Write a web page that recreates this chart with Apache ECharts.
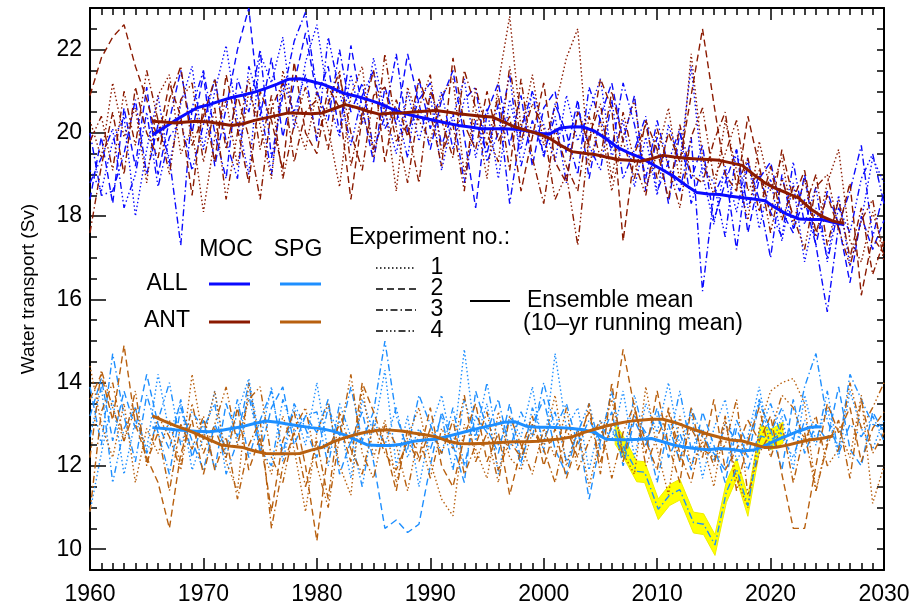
<!DOCTYPE html>
<html>
<head>
<meta charset="utf-8">
<script src="https://cdn.jsdelivr.net/npm/echarts@6/dist/echarts.min.js"></script>
<style>
  html, body { margin: 0; padding: 0; background: #fff; }
  #chart { width: 914px; height: 606px; }
</style>
</head>
<body>
<div id="chart"></div>
<script>
// yearly values of the single runs, 1960..2030
var startYear = 1960;

// MOC, ALL forcing (blue), experiments 1-4
var allMoc1 = [
  19.1, 18.6, 19.8, 20.4, 18.0, 19.6, 20.9, 19.2, 20.7, 21.6,
  19.6, 21.0, 22.1, 20.3, 19.0, 21.9, 21.2, 22.3, 20.1, 21.7,
  22.6, 20.8, 19.9, 21.4, 20.2, 21.8, 20.5, 19.5, 21.0, 19.8,
  20.9, 19.1, 20.4, 21.3, 19.4, 20.6, 18.9, 20.8, 19.6, 21.0,
  20.2, 19.3, 20.9, 19.8, 20.5, 21.3, 19.4, 20.3, 18.7, 19.9,
  18.5, 20.2, 19.3, 21.6, 19.0, 17.8, 19.2, 18.1, 19.4, 17.7,
  18.9, 17.4, 18.8, 16.9, 18.2, 17.0, 18.5, 16.8, 17.9, 19.4,
  18.8];
var allMoc2 = [
  18.4, 19.9, 18.3, 20.6, 19.2, 21.1, 19.0, 20.3, 21.5, 20.0,
  21.4, 19.2, 20.6, 22.0, 23.0, 20.4, 21.8, 19.9, 21.2, 22.4,
  20.9, 21.6, 20.0, 22.1, 20.6, 19.3, 21.1, 20.2, 21.9, 20.7,
  19.6, 20.8, 21.5, 19.9, 18.2, 20.5, 21.2, 19.7, 20.9, 19.2,
  20.6, 21.0, 19.5, 20.8, 18.9, 20.4, 21.2, 19.8, 20.9, 18.6,
  19.9, 18.3, 20.0, 18.9, 19.7, 17.9, 18.8, 19.6, 17.6, 18.9,
  19.3, 18.1, 17.6, 19.0, 17.3, 18.6, 17.8, 16.4, 18.0, 17.2,
  17.9];
var allMoc3 = [
  20.0, 18.5, 18.6, 19.5, 20.8, 19.0, 20.2, 19.4, 17.3, 20.6,
  21.5, 20.0, 18.9, 21.3, 20.5, 22.0, 19.4, 20.9, 22.2, 22.9,
  21.0, 20.3, 22.0, 20.5, 21.2, 19.6, 20.4, 21.9, 20.0, 20.8,
  21.2, 19.7, 20.5, 18.8, 20.3, 19.5, 20.7, 18.3, 20.1, 21.0,
  19.4, 20.7, 20.0, 19.0, 21.1, 20.3, 19.6, 21.2, 20.2, 18.9,
  20.3, 19.2, 18.6, 19.9, 16.2, 18.5, 19.1, 17.2, 19.3, 18.4,
  17.0, 19.0, 17.7, 18.4, 17.3, 15.7, 17.8, 18.6, 19.7, 17.5,
  18.6];
var allMoc4 = [
  18.8, 19.4, 20.1, 18.2, 19.0, 20.5, 18.7, 19.9, 20.3, 19.1,
  20.2, 21.3, 19.8, 18.9, 21.6, 20.7, 19.0, 21.2, 20.5, 21.4,
  19.8, 22.3, 21.0, 19.7, 20.9, 21.5, 20.1, 20.6, 19.4, 21.3,
  20.1, 21.0, 19.6, 20.8, 21.1, 19.3, 20.0, 21.4, 19.2, 20.3,
  19.5, 20.4, 18.8, 20.6, 19.7, 19.1, 20.8, 18.9, 19.6, 20.4,
  18.6, 19.3, 20.1, 18.3, 19.2, 18.8, 17.5, 19.6, 18.2, 19.0,
  18.1, 17.5, 19.3, 17.8, 18.7, 16.9, 18.2, 17.6, 18.9, 19.5,
  18.3];

// MOC, ANT forcing (dark red)
var antMoc1 = [
  20.3, 19.4, 21.2, 19.9, 20.6, 18.8, 20.9, 21.4, 19.5, 20.1,
  18.1, 19.9, 20.8, 19.2, 21.0, 20.2, 18.9, 21.5, 20.4, 19.6,
  21.0, 20.1, 18.7, 20.9, 21.6, 19.4, 20.7, 18.6, 21.1, 20.3,
  19.8, 20.9, 21.3, 19.0, 20.5, 18.9, 21.2, 22.8, 20.1, 21.4,
  19.7, 20.6, 21.8, 22.5, 19.2, 20.3, 18.6, 19.9, 20.8, 18.7,
  19.5, 20.6, 18.8, 21.9, 19.4, 18.5, 20.3, 19.1, 17.9, 19.8,
  18.6, 19.4, 17.8, 18.9, 17.5, 18.8, 19.6, 17.4, 16.9, 18.1,
  17.2];
var antMoc2 = [
  20.9, 21.8, 22.3, 22.6, 21.6, 20.8, 19.8, 21.2, 20.4, 18.5,
  20.7, 19.3, 21.4, 20.1, 18.8, 21.0, 20.3, 19.1, 21.7, 20.0,
  19.5, 21.1, 20.6, 18.4, 20.4, 21.5, 19.3, 20.8, 19.9, 21.3,
  20.5, 19.2, 21.8, 20.2, 19.6, 21.0, 19.8, 20.4, 18.6, 19.9,
  21.2, 19.3, 18.8, 20.5, 19.7, 21.3, 20.6, 17.4, 19.5, 20.2,
  18.9, 20.0, 19.3, 20.9, 22.5, 20.7, 19.0, 18.6, 20.4, 19.2,
  18.0, 19.6, 18.4, 19.1, 17.6, 18.5, 17.7, 18.8, 16.1, 17.5,
  17.1];
var antMoc3 = [
  17.6, 19.2, 20.5, 19.0, 21.1, 20.0, 19.4, 20.8, 21.6, 19.7,
  20.4, 21.3, 19.6, 20.9, 19.9, 18.4, 20.6, 21.2, 19.3, 20.5,
  20.8, 19.6, 21.4, 20.0, 19.1, 20.9, 21.1, 19.8, 20.2, 18.8,
  21.0, 20.3, 19.4, 21.5, 20.6, 19.7, 20.9, 19.1, 21.3, 19.4,
  18.3, 20.1, 19.2, 18.6, 20.4, 19.4, 21.0, 19.8, 18.9, 20.3,
  19.6, 18.4, 20.2, 19.0, 18.8, 19.8, 20.5, 18.7, 19.4, 18.1,
  19.2, 17.9, 18.7, 18.2, 19.0, 17.3, 18.4, 17.0, 18.2, 16.6,
  17.4];
var antMoc4 = [
  19.8, 20.4, 19.1, 21.0, 19.7, 21.5, 20.3, 19.0, 20.8, 21.2,
  19.3, 20.6, 18.4, 20.0, 21.3, 19.6, 20.9, 18.9, 20.2, 21.1,
  19.9, 20.7, 21.5, 19.2, 20.5, 19.6, 21.9, 20.1, 18.8, 20.6,
  21.4, 19.5, 20.2, 18.6, 21.1, 20.0, 19.3, 21.6, 19.8, 20.7,
  20.1, 18.4, 19.0, 17.3, 19.9, 20.7, 18.9, 20.5, 19.3, 18.5,
  20.1, 19.2, 18.2, 19.9, 20.6, 18.9, 19.5, 20.3, 18.6, 19.1,
  17.6, 18.9, 18.0, 17.2, 18.7, 19.0, 17.7, 16.8, 17.9, 18.4,
  16.9];

// SPG, ALL forcing (light blue)
var allSpg1 = [
  10.9, 12.3, 13.6, 11.8, 13.1, 12.4, 14.2, 12.8, 13.5, 11.9,
  12.7, 13.8, 12.2, 13.3, 14.1, 12.6, 13.9, 12.1, 13.4, 12.5,
  14.0, 12.3, 13.1, 11.7, 13.6, 12.8, 14.3, 12.0, 13.2, 11.5,
  12.9, 13.7, 12.4, 14.8, 12.6, 13.5, 11.8, 13.2, 12.7, 13.9,
  12.3, 14.7, 12.9, 13.4, 11.9, 13.1, 12.6, 13.8, 12.2, 13.5,
  12.8, 14.0, 12.5, 13.3, 11.7, 12.9, 13.6, 12.1, 12.7, 13.9,
  12.4, 13.2, 11.9, 13.7, 12.6, 13.4, 12.2, 13.8, 12.9, 12.4,
  13.1];
var allSpg2 = [
  13.2, 14.1, 12.6, 13.8, 12.9, 14.2, 13.0, 12.4, 13.6, 12.2,
  13.1, 11.9, 13.5, 12.7, 14.0, 12.3, 13.4, 13.9, 12.5, 13.2,
  12.8, 13.6, 11.8, 12.6, 13.3, 12.1, 10.5, 10.7, 10.4, 10.6,
  12.0, 13.3, 12.5, 11.6, 13.8, 12.9, 12.3, 13.5, 12.1, 13.0,
  13.6, 12.4, 11.8, 12.9, 11.2, 12.6, 13.3, 12.0, 13.1, 12.5,
  13.4, 12.2, 12.8, 11.9, 13.3, 12.5, 11.6, 12.9, 12.2, 13.5,
  12.9, 11.9, 13.6, 12.3, 13.0, 12.6, 13.9, 12.4, 12.0, 13.3,
  12.8];
var allSpg3 = [
  13.9, 12.5, 14.7, 13.2, 12.1, 13.7, 12.8, 11.8, 13.4, 12.6,
  11.9, 13.0, 12.4, 13.6, 12.2, 13.1, 13.8, 12.3, 13.5, 12.9,
  12.2, 13.4, 12.7, 13.9, 12.6, 13.3, 15.0, 13.2, 12.4, 13.7,
  13.0, 12.3, 13.4, 12.0, 13.2, 12.8, 13.6, 12.4, 13.3, 12.7,
  14.0, 12.9, 13.5, 12.5, 13.1, 12.6, 13.8, 12.3, 13.2, 12.8,
  11.6, 13.0, 12.1, 13.4, 12.7, 12.3, 11.9, 13.1, 12.5, 13.6,
  12.8, 13.4, 12.6, 13.9, 14.7, 13.1, 12.4, 14.2, 13.6, 13.0,
  12.9];
var allSpg4 = [
  12.7, 13.9, 11.6, 12.9, 13.4, 12.3, 13.1, 14.0, 12.5, 13.3,
  12.9, 13.5, 11.8, 12.6, 13.7, 12.4, 12.0, 13.6, 12.8, 13.2,
  13.3, 12.0, 13.5, 12.7, 11.5, 13.1, 12.5, 13.4, 12.2, 12.9,
  12.4, 13.2, 11.9, 13.6, 12.7, 14.0, 12.5, 13.1, 12.0, 13.4,
  12.6, 13.3, 12.1, 12.8, 13.5, 12.4, 12.9, 12.2, 13.7, 12.6,
  13.2, 12.5, 13.8, 12.4, 12.9, 12.1, 13.0, 12.6, 11.9, 12.8,
  13.5, 12.7, 12.2, 13.1, 12.5, 13.8, 12.3, 13.0, 12.7, 13.2,
  12.6];

// SPG, ANT forcing (orange brown)
var antSpg1 = [
  14.4, 13.0, 12.2, 13.5, 11.6, 12.9, 12.3, 13.1, 12.0, 14.2,
  12.6, 13.8, 12.1, 11.4, 14.0, 12.5, 11.8, 13.2, 12.4, 10.9,
  12.8, 13.5, 12.0, 11.3, 13.9, 12.2, 13.1, 11.6, 12.7, 13.4,
  12.1, 11.2, 10.8, 13.0, 12.4, 11.7, 13.3, 12.2, 11.9, 12.8,
  12.5, 13.7, 12.0, 12.9, 11.5, 12.7, 13.6, 12.3, 11.8, 13.9,
  12.4, 11.3, 13.2, 12.0, 12.6, 11.5, 13.1, 11.7, 11.0, 12.9,
  13.8, 14.0, 14.1, 13.5, 11.4, 12.6, 12.9, 12.2, 13.7, 11.1,
  12.0];
var antSpg2 = [
  13.6, 14.2, 13.1, 14.9, 13.0, 12.2, 11.6, 10.5, 12.3, 13.1,
  11.8, 12.9, 12.2, 13.4, 11.9, 12.7, 10.9, 12.6, 13.3, 12.0,
  10.2, 12.4, 13.0, 12.1, 14.0, 13.3, 12.5, 11.4, 12.9, 12.2,
  13.4, 12.0, 11.5, 12.7, 13.5, 12.1, 12.8, 11.3, 12.4, 13.2,
  12.0, 12.9, 11.7, 12.6, 13.3, 12.1, 13.0, 14.8, 13.4, 12.3,
  13.8, 12.5, 11.6, 13.4, 12.2, 13.6, 11.9, 12.4, 13.1, 12.6,
  13.2, 11.8, 10.5, 10.5, 12.0, 13.5, 12.8, 13.4, 12.1, 12.9,
  13.3];
var antSpg3 = [
  10.9, 13.3, 14.0, 12.6, 13.4, 12.1, 12.8, 11.4, 13.0, 12.4,
  13.2, 11.9, 12.7, 11.2, 12.5, 13.1, 10.5, 12.0, 12.8, 11.5,
  12.6, 11.2, 13.3, 12.4, 11.8, 13.0, 12.3, 11.9, 12.6, 12.1,
  12.9, 12.3, 13.1, 11.8, 12.5, 13.3, 11.9, 12.6, 12.2, 13.0,
  12.4, 11.6, 12.9, 12.2, 13.5, 11.8, 14.0, 12.1, 13.3, 12.6,
  11.9, 13.4, 12.3, 11.6, 12.8, 12.0, 13.2, 11.4, 12.6, 13.4,
  12.2, 13.0, 11.6, 12.8, 11.4, 12.5, 13.1, 11.7, 13.6, 12.3,
  12.8];
var antSpg4 = [
  12.2, 14.3, 13.4, 12.6, 13.8, 12.0, 13.2, 12.7, 11.9, 13.5,
  12.3, 13.0, 13.9, 12.5, 13.6, 13.9, 12.2, 11.6, 12.9, 13.4,
  12.0, 11.0, 12.7, 14.2, 12.3, 11.7, 13.0, 12.5, 11.4, 12.8,
  11.7, 12.9, 12.4, 13.7, 12.1, 12.8, 11.6, 13.2, 12.5, 11.8,
  12.9, 12.2, 13.4, 11.9, 12.6, 13.1, 11.7, 12.8, 13.5, 12.0,
  12.7, 13.3, 12.1, 12.9, 12.4, 12.2, 12.5, 13.6, 11.3, 12.3,
  12.8, 13.7, 13.4, 12.6, 13.2, 12.0, 12.4, 14.0, 12.9, 13.4,
  14.0];

// ensemble means (10-yr running mean), first point at 1965.5
var meanStart = 1965.5;
var allMocMean = [
  19.95, 20.12, 20.30, 20.46, 20.61,
  20.68, 20.77, 20.85, 20.91, 20.98, 21.07, 21.17, 21.29, 21.30, 21.24,
  21.17, 21.06, 20.94, 20.88, 20.80, 20.71, 20.59, 20.48, 20.41, 20.35,
  20.29, 20.23, 20.18, 20.14, 20.10, 20.10, 20.10, 20.09, 20.05, 19.99,
  19.97, 20.12, 20.15, 20.14, 20.04, 19.86, 19.65, 19.52, 19.41, 19.26,
  19.11, 18.95, 18.75, 18.57, 18.53, 18.52, 18.48, 18.44, 18.41, 18.37,
  18.19, 18.04, 17.93, 17.92, 17.92, 17.85, 17.79];
var antMocMean = [
  20.28, 20.26, 20.24, 20.26, 20.28,
  20.26, 20.22, 20.18, 20.22, 20.30, 20.36, 20.42, 20.48, 20.47, 20.46,
  20.48, 20.58, 20.68, 20.61, 20.52, 20.45, 20.47, 20.48, 20.50, 20.52,
  20.54, 20.50, 20.46, 20.43, 20.40, 20.38, 20.26, 20.14, 20.06, 19.98,
  19.87, 19.70, 19.55, 19.51, 19.48, 19.42, 19.36, 19.34, 19.32, 19.38,
  19.46, 19.42, 19.39, 19.37, 19.36, 19.34, 19.28, 19.22, 19.00, 18.80,
  18.66, 18.55, 18.43, 18.18, 18.00, 17.88, 17.83];
var allSpgMean = [
  12.92, 12.90, 12.87, 12.85, 12.83,
  12.82, 12.85, 12.90, 12.95, 13.02, 13.08, 13.05, 13.00, 12.96, 12.92,
  12.89, 12.83, 12.74, 12.62, 12.50, 12.49, 12.49, 12.52, 12.59, 12.62,
  12.64, 12.71, 12.78, 12.85, 12.92, 12.98, 13.05, 13.06, 12.95, 12.93,
  12.93, 12.92, 12.90, 12.87, 12.80, 12.64, 12.63, 12.63, 12.64, 12.66,
  12.58, 12.50, 12.45, 12.41, 12.39, 12.42, 12.40, 12.36, 12.38, 12.49,
  12.62, 12.73, 12.84, 12.93, 12.94];
var antSpgMean = [
  13.20, 13.08, 12.97, 12.87, 12.76,
  12.63, 12.51, 12.47, 12.44, 12.36, 12.30, 12.29, 12.29, 12.30, 12.38,
  12.45, 12.59, 12.68, 12.76, 12.82, 12.86, 12.86, 12.84, 12.79, 12.75,
  12.70, 12.60, 12.54, 12.53, 12.54, 12.55, 12.57, 12.58, 12.58, 12.59,
  12.62, 12.65, 12.70, 12.80, 12.88, 12.96, 13.02, 13.07, 13.10, 13.12,
  13.12, 13.05, 12.95, 12.85, 12.76, 12.69, 12.62, 12.60, 12.52, 12.44,
  12.45, 12.50, 12.57, 12.63, 12.66, 12.72];

// observed SPG transport with its uncertainty (yellow)
var obsYears = [2006.3, 2006.9, 2008.2, 2008.9, 2010.1, 2011.1, 2012.0, 2013.2,
  2014.1, 2015.1, 2016.1, 2017.0, 2018.0, 2019.1, 2020.1, 2021.1];
var obsValues = [12.77, 12.52, 11.87, 11.85, 10.96, 11.30, 11.43, 10.64,
  10.60, 10.10, 11.37, 11.93, 11.04, 12.72, 12.64, 12.80];
var obsErr = 0.25;

var yTicks = [10, 12, 14, 16, 18, 20, 22];

var C_ALL_MOC = '#0a0aff';
var C_ANT_MOC = '#8b1a00';
var C_ALL_SPG = '#1e8fff';
var C_ANT_SPG = '#b8600f';
var dashes = [
  [1.5, 2.5],
  [7, 4],
  [7, 3, 1.5, 3],
  [7, 3, 1.5, 2.5, 1.5, 2.5, 1.5, 3]
];
var FONT = 'Liberation Sans, Arial, Helvetica, sans-serif';

function yearly(arr) {
  return arr.map(function (v, i) { return [startYear + i, v]; });
}
function running(arr) {
  return arr.map(function (v, i) { return [meanStart + i, v]; });
}
function runLine(arr, color, exp) {
  return {
    type: 'line', data: yearly(arr), symbol: 'none', silent: true,
    lineStyle: { color: color, width: 1.4, type: dashes[exp], cap: 'butt' }
  };
}
function meanLine(arr, color) {
  return {
    type: 'line', data: running(arr), symbol: 'none', silent: true, z: 5,
    lineStyle: { color: color, width: 3 }
  };
}

var series = [];
[allMoc1, allMoc2, allMoc3, allMoc4].forEach(function (a, i) { series.push(runLine(a, C_ALL_MOC, i)); });
[antMoc1, antMoc2, antMoc3, antMoc4].forEach(function (a, i) { series.push(runLine(a, C_ANT_MOC, i)); });
[allSpg1, allSpg2, allSpg3, allSpg4].forEach(function (a, i) { series.push(runLine(a, C_ALL_SPG, i)); });
[antSpg1, antSpg2, antSpg3, antSpg4].forEach(function (a, i) { series.push(runLine(a, C_ANT_SPG, i)); });

// uncertainty band, drawn as one polygon through the axis scales
series.push({
  type: 'custom', silent: true, z: 3,
  data: obsYears.map(function (y, i) { return [y, obsValues[i]]; }),
  encode: { x: 0, y: 1 },
  renderItem: function (params, api) {
    if (params.dataIndex !== 0) return null;
    var pts = [];
    for (var i = 0; i < obsYears.length; i++) {
      pts.push(api.coord([obsYears[i], obsValues[i] + obsErr]));
    }
    for (var j = obsYears.length - 1; j >= 0; j--) {
      pts.push(api.coord([obsYears[j], obsValues[j] - obsErr]));
    }
    return {
      type: 'polygon', shape: { points: pts },
      style: { fill: '#ffff00', stroke: '#eeee00', lineWidth: 1 }
    };
  }
});
series.push({
  type: 'line', symbol: 'none', silent: true, z: 4,
  data: obsYears.map(function (y, i) { return [y, obsValues[i]]; }),
  lineStyle: { color: C_ALL_SPG, width: 1.4, type: dashes[2] }
});

series.push(meanLine(allMocMean, C_ALL_MOC));
series.push(meanLine(antMocMean, C_ANT_MOC));
series.push(meanLine(allSpgMean, C_ALL_SPG));
series.push(meanLine(antSpgMean, C_ANT_SPG));

function txt(s, x, y, align) {
  return {
    type: 'text', x: x, y: y, silent: true, z: 100,
    style: {
      text: s, font: '23px ' + FONT, fill: '#000',
      textAlign: align || 'center', textVerticalAlign: 'middle',
      align: align || 'center', verticalAlign: 'middle'
    }
  };
}
function seg(x1, x2, y, color, width, dash) {
  return {
    type: 'line', silent: true, z: 100,
    shape: { x1: x1, y1: y, x2: x2, y2: y },
    style: { stroke: color, lineWidth: width, lineDash: dash || null }
  };
}

var graphics = [
  txt('MOC', 226, 250), txt('SPG', 298, 250),
  txt('ALL', 167, 284), txt('ANT', 167, 321),
  seg(209, 250, 284, C_ALL_MOC, 3), seg(280, 321, 284, C_ALL_SPG, 3),
  seg(209, 250, 322, C_ANT_MOC, 3), seg(280, 321, 322, C_ANT_SPG, 3),
  txt('Experiment no.:', 349, 238, 'left'),
  seg(470, 510, 301, '#000', 2),
  txt('Ensemble mean', 527, 301, 'left'),
  txt('(10\u2013yr running mean)', 523, 324, 'left')
];
var expY = [268, 289, 310, 331];
expY.forEach(function (y, i) {
  graphics.push(seg(376, 416, y, '#000', 1.4, dashes[i]));
  graphics.push(txt(String(i + 1), 437, y));
});

var lineBlack = { show: true, lineStyle: { color: '#000', width: 2 } };
var tickBlack = { color: '#000', width: 1.5 };

var chart = echarts.init(document.getElementById('chart'));
chart.setOption({
  animation: false,
  backgroundColor: '#fff',
  grid: { left: 90, right: 30, top: 8, bottom: 36 },
  xAxis: [{
    type: 'value', min: 1960, max: 2030, interval: 10, position: 'bottom',
    axisLine: lineBlack,
    axisTick: { inside: true, length: 12, lineStyle: tickBlack },
    minorTick: { show: true, splitNumber: 10, length: 7, lineStyle: tickBlack },
    axisLabel: {
      color: '#000', fontSize: 23, fontFamily: FONT, margin: 13,
      formatter: function (v) { return String(v); }
    },
    splitLine: { show: false }
  }, {
    type: 'value', min: 1960, max: 2030, interval: 10, position: 'top',
    axisLine: lineBlack,
    axisTick: { inside: true, length: 12, lineStyle: tickBlack },
    minorTick: { show: true, splitNumber: 10, length: 7, lineStyle: tickBlack },
    axisLabel: { show: false },
    splitLine: { show: false }
  }],
  yAxis: [{
    type: 'value', min: 9.5, max: 23, position: 'left',
    name: 'Water transport (Sv)', nameLocation: 'middle', nameGap: 52,
    nameTextStyle: { color: '#000', fontSize: 19, fontFamily: FONT },
    axisLine: lineBlack,
    axisTick: { inside: true, length: 16, lineStyle: tickBlack, customValues: yTicks },
    axisLabel: { color: '#000', fontSize: 23, fontFamily: FONT, margin: 8, customValues: yTicks },
    splitLine: { show: false }
  }, {
    type: 'value', min: 9.5, max: 23, interval: 0.5, position: 'left',
    axisLine: { show: false },
    axisTick: { inside: true, length: 7, lineStyle: tickBlack },
    axisLabel: { show: false },
    splitLine: { show: false }
  }, {
    type: 'value', min: 9.5, max: 23, interval: 0.5, position: 'right',
    axisLine: lineBlack,
    axisTick: { inside: true, length: 7, lineStyle: tickBlack },
    axisLabel: { show: false },
    splitLine: { show: false }
  }],
  graphic: graphics,
  series: series
});
</script>
</body>
</html>
